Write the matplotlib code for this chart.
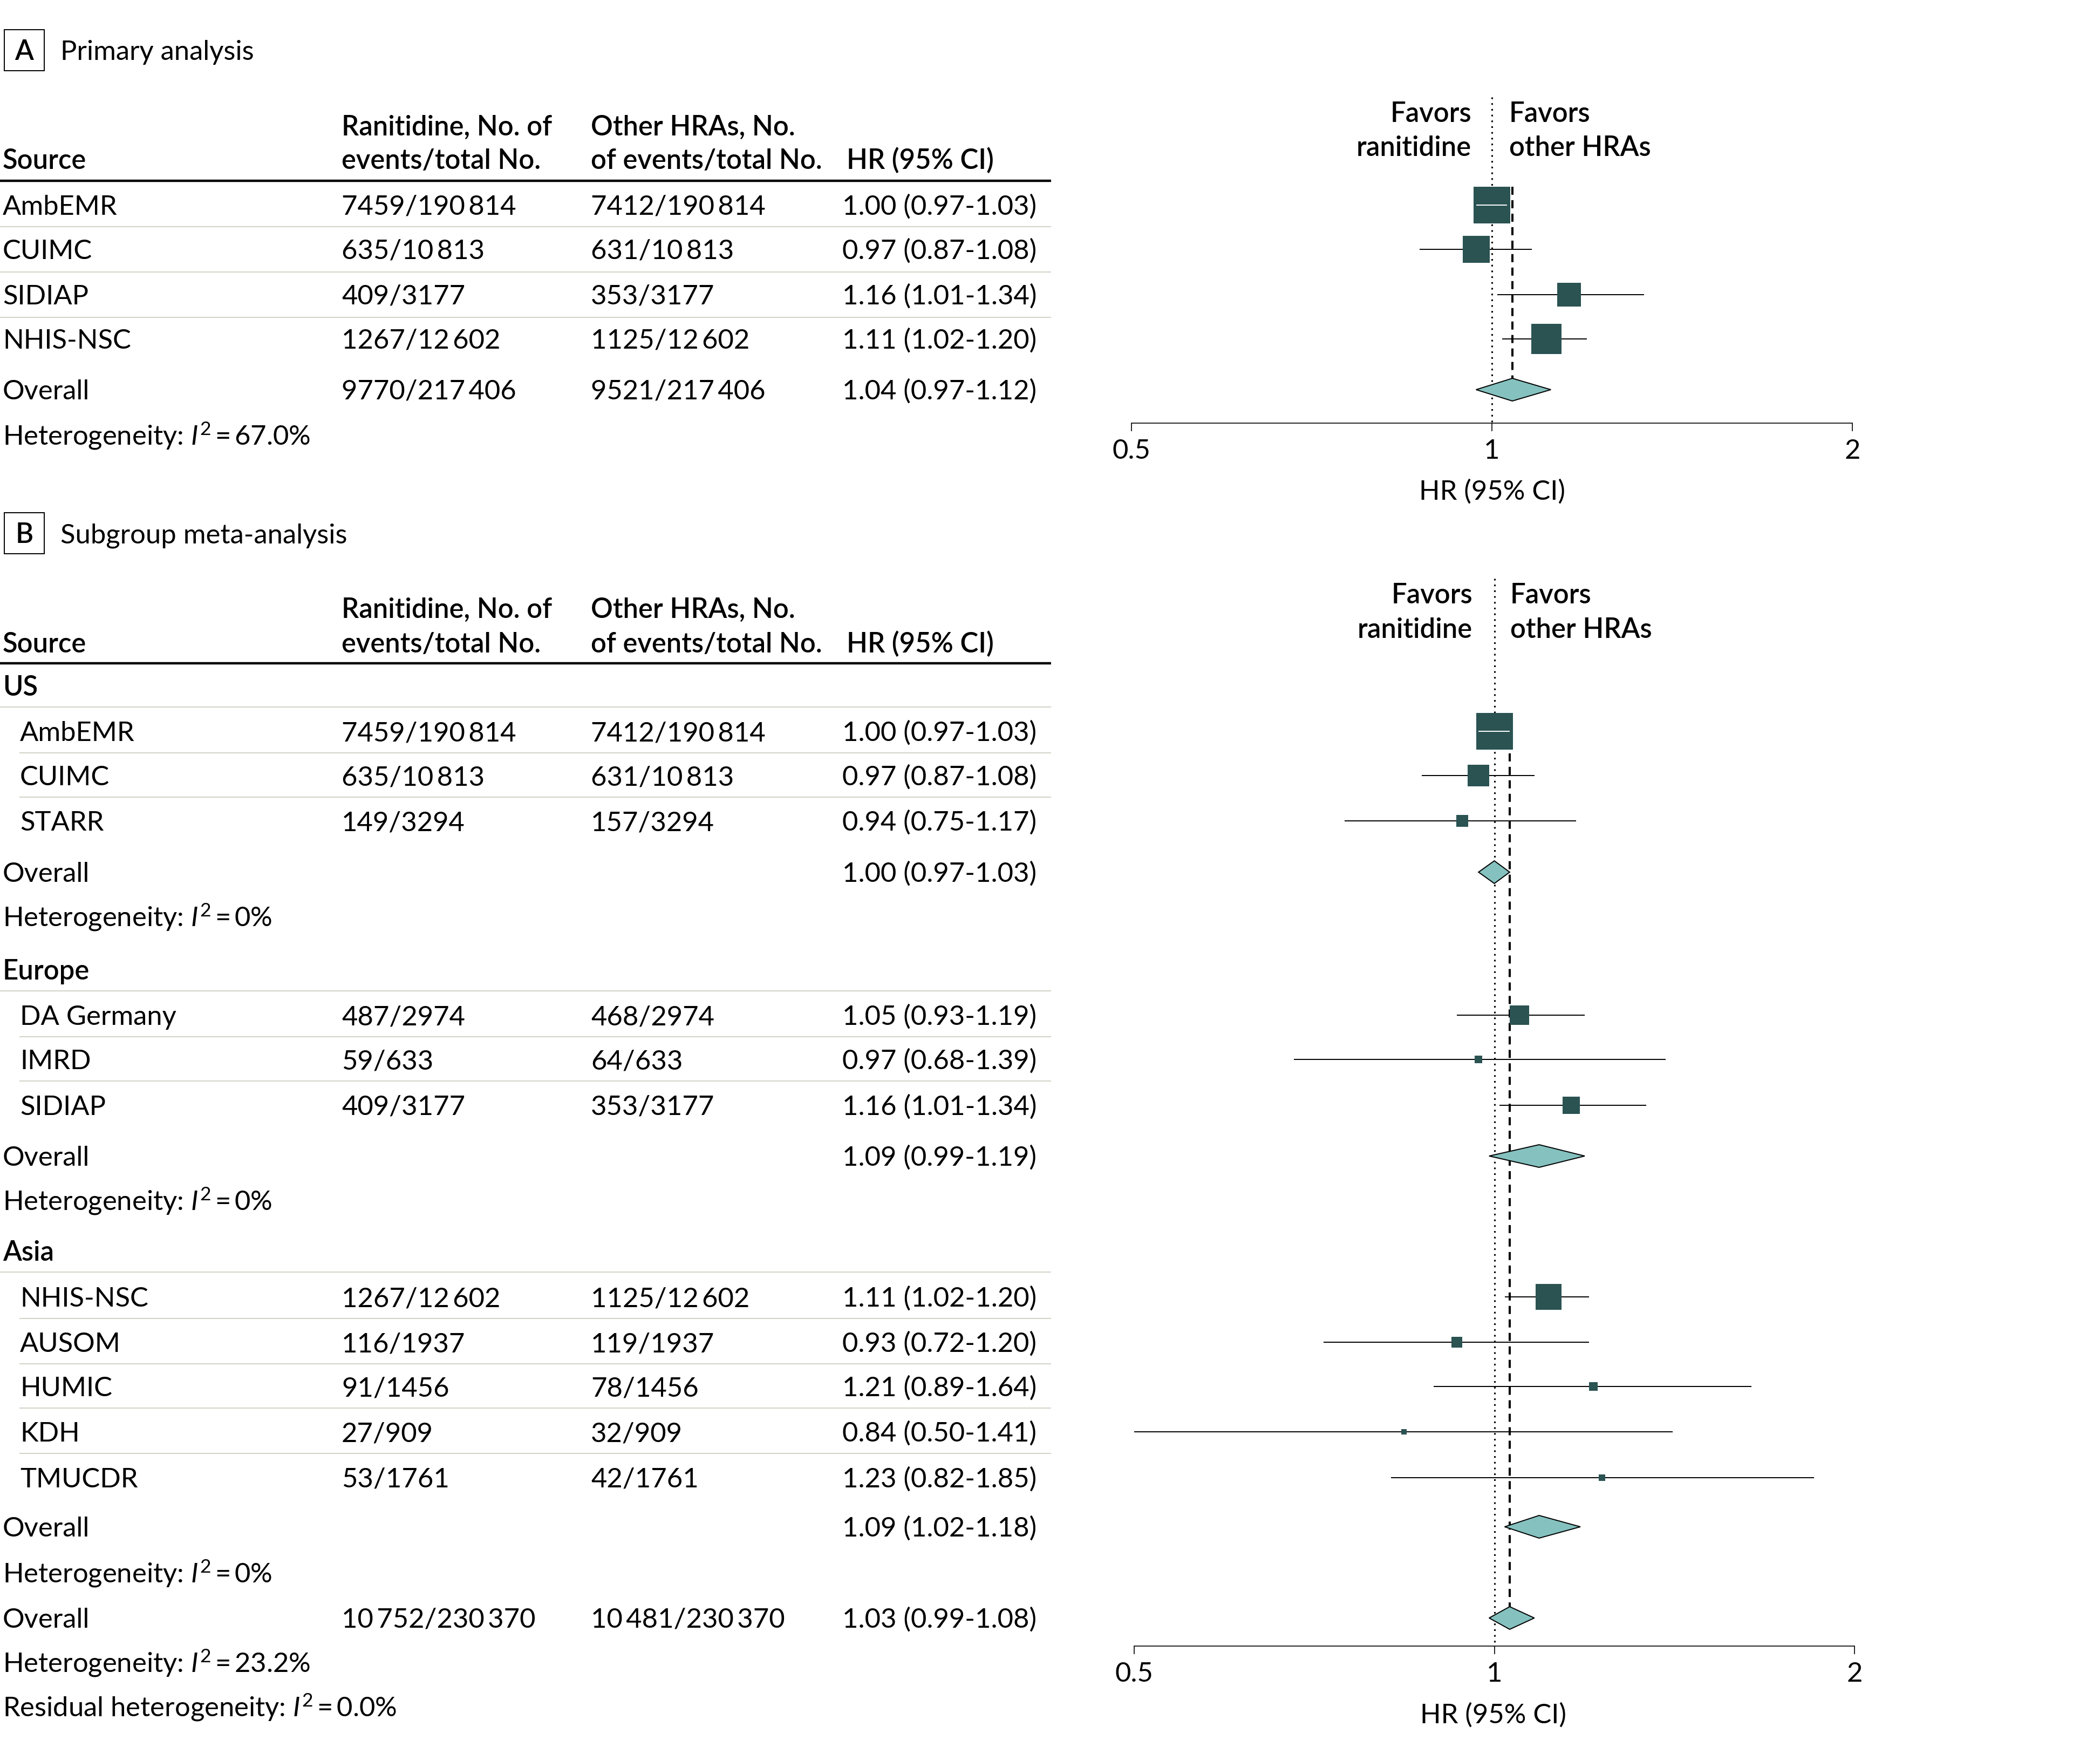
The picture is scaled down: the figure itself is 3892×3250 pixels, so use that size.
import numpy as np
import matplotlib
matplotlib.use('Agg')
import matplotlib.pyplot as plt
from matplotlib.patches import Polygon, Rectangle
from matplotlib.ticker import NullLocator

# ---------------- data ----------------
# Panel A: primary analysis
src_a = ['AmbEMR', 'CUIMC', 'SIDIAP', 'NHIS-NSC']
ran_a = ['7459/190\u2009814', '635/10\u2009813', '409/3177', '1267/12\u2009602']
oth_a = ['7412/190\u2009814', '631/10\u2009813', '353/3177', '1125/12\u2009602']
hr_a = [1.00, 0.97, 1.16, 1.11]
lo_a = [0.97, 0.87, 1.01, 1.02]
hi_a = [1.03, 1.08, 1.34, 1.20]
wt_a = [37.5, 20.9, 15.4, 26.2]          # study weight, %
ran_tot_a = '9770/217\u2009406'
oth_tot_a = '9521/217\u2009406'
ov_a = [1.04, 0.97, 1.12]                # HR, lower, upper
i2_a = '67.0%'

# Panel B: subgroup meta-analysis
groups = ['US', 'Europe', 'Asia']
src_b = [['AmbEMR', 'CUIMC', 'STARR'],
         ['DA Germany', 'IMRD', 'SIDIAP'],
         ['NHIS-NSC', 'AUSOM', 'HUMIC', 'KDH', 'TMUCDR']]
ran_b = [['7459/190\u2009814', '635/10\u2009813', '149/3294'],
         ['487/2974', '59/633', '409/3177'],
         ['1267/12\u2009602', '116/1937', '91/1456', '27/909', '53/1761']]
oth_b = [['7412/190\u2009814', '631/10\u2009813', '157/3294'],
         ['468/2974', '64/633', '353/3177'],
         ['1125/12\u2009602', '119/1937', '78/1456', '32/909', '42/1761']]
hr_b = [[1.00, 0.97, 0.94], [1.05, 0.97, 1.16], [1.11, 0.93, 1.21, 0.84, 1.23]]
lo_b = [[0.97, 0.87, 0.75], [0.93, 0.68, 1.01], [1.02, 0.72, 0.89, 0.50, 0.82]]
hi_b = [[1.03, 1.08, 1.17], [1.19, 1.39, 1.34], [1.20, 1.20, 1.64, 1.41, 1.85]]
wt_b = [[37.6, 12.7, 3.8], [10.5, 1.6, 8.4], [18.4, 3.0, 2.1, 0.8, 1.2]]
grp_hr = [1.00, 1.09, 1.09]
grp_lo = [0.97, 0.99, 1.02]
grp_hi = [1.03, 1.19, 1.18]
grp_i2 = ['0%', '0%', '0%']
ran_tot_b = '10\u2009752/230\u2009370'
oth_tot_b = '10\u2009481/230\u2009370'
ov_b = [1.03, 0.99, 1.08]
i2_b = '23.2%'
i2_resid = '0.0%'

# ---------------- style ----------------
W, H = 3892, 3250
FONT, FS = 'Lato', 36.5
plt.rcParams['font.family'] = [FONT, 'DejaVu Sans']
plt.rcParams['mathtext.fontset'] = 'custom'
plt.rcParams['mathtext.rm'] = FONT
plt.rcParams['mathtext.it'] = FONT + ':italic'
BOLD = 'semibold'
PT = 0.72                     # points per pixel at dpi 100
SQ_COL = '#2a5352'
DIA_COL = '#84c1bf'
SEP_COL = '#c8cbbc'
SQ_K = 11.0                   # square side (px) per sqrt(weight %)
DIA_H = 21                    # diamond half height, px
TAB_R = 1948                  # right end of table rules
COLS = [5, 633, 1095, 1561]

fig = plt.figure(figsize=(W / 100, H / 100), dpi=100)
ax_t = fig.add_axes([0, 0, 1, 1])
ax_t.set_xlim(0, W)
ax_t.set_ylim(H, 0)
ax_t.axis('off')


def txt(x, yc, s, bold=False, ha='left'):
    ax_t.text(x, yc + 18, s, fontsize=FS, fontweight=BOLD if bold else 'normal',
              ha=ha, va='baseline')


def rule(y, x0=0, lw=1.2, color=SEP_COL):
    ax_t.plot([x0, TAB_R], [y, y], color=color, lw=lw, solid_capstyle='butt')


def hr_str(h, l, u):
    return f'{h:.2f} ({l:.2f}-{u:.2f})'


def panel_label(y0, letter, title):
    ax_t.add_patch(Rectangle((8, y0), 74, 76, fill=False, lw=1.4, ec='black'))
    txt(45, y0 + 38, letter, bold=True, ha='center')
    txt(112, y0 + 38, title)


def header(y1, y2, yrule):
    txt(COLS[1], y1, 'Ranitidine, No. of', bold=True)
    txt(COLS[2], y1, 'Other HRAs, No.', bold=True)
    txt(COLS[0], y2, 'Source', bold=True)
    txt(COLS[1], y2, 'events/total No.', bold=True)
    txt(COLS[2], y2, 'of events/total No.', bold=True)
    txt(1569, y2, 'HR (95% CI)', bold=True)
    rule(yrule, lw=3.2, color='black')


def forest_ax(x0, x1, ytop, ybot):
    ax = fig.add_axes([x0 / W, 1 - ybot / H, (x1 - x0) / W, (ybot - ytop) / H])
    ax.set_xscale('log', base=2)
    ax.set_xlim(0.5, 2)
    ax.set_ylim(ybot, ytop)
    for s in ['top', 'right', 'left']:
        ax.spines[s].set_visible(False)
    ax.spines['bottom'].set_linewidth(1.2)
    ax.set_yticks([])
    ax.set_xticks([0.5, 1, 2])
    ax.set_xticklabels(['0.5', '1', '2'])
    ax.xaxis.set_minor_locator(NullLocator())
    ax.tick_params(axis='x', direction='out', length=11, width=1.2,
                   labelsize=FS, pad=10)
    ax.patch.set_alpha(0)
    return ax, (x1 - x0) / 2.0


def studies(ax, pxl, ys, hr, lo, hi, wt):
    for y, h, l, u, w in zip(ys, hr, lo, hi, wt):
        ax.plot([l, u], [y, y], color='black', lw=1.4, zorder=3,
                solid_capstyle='butt', clip_on=False)
        side = SQ_K * np.sqrt(w)
        ax.scatter([h], [y], s=(side * PT) ** 2, marker='s', color=SQ_COL,
                   linewidths=0, zorder=4, clip_on=False)
        # CI narrower than the box: draw it in white on top
        if pxl * np.log2(u / h) < side / 2 and pxl * np.log2(h / l) < side / 2:
            ax.plot([l, u], [y, y], color='white', lw=1.4, zorder=5,
                    solid_capstyle='butt')


def diamond(ax, y, h, l, u):
    ax.add_patch(Polygon([(l, y), (h, y - DIA_H), (u, y), (h, y + DIA_H)],
                         closed=True, fc=DIA_COL, ec='black', lw=1.4,
                         joinstyle='miter', zorder=4, clip_on=False))


def favors(x1, y1, y2):
    txt(x1 - 38, y1, 'Favors', bold=True, ha='right')
    txt(x1 - 38, y2, 'ranitidine', bold=True, ha='right')
    txt(x1 + 32, y1, 'Favors', bold=True)
    txt(x1 + 32, y2, 'other HRAs', bold=True)


# ---------------- panel A ----------------
panel_label(55, 'A', 'Primary analysis')
header(233, 295, 335)
rows_a = [380, 462, 546, 628]
for i, y in enumerate(rows_a):
    txt(COLS[0], y, src_a[i])
    txt(COLS[1], y, ran_a[i])
    txt(COLS[2], y, oth_a[i])
    txt(COLS[3], y, hr_str(hr_a[i], lo_a[i], hi_a[i]))
for y in [420, 504, 588]:
    rule(y)
y_ov_a = 722
txt(COLS[0], y_ov_a, 'Overall')
txt(COLS[1], y_ov_a, ran_tot_a)
txt(COLS[2], y_ov_a, oth_tot_a)
txt(COLS[3], y_ov_a, hr_str(*ov_a))
txt(COLS[0], 807, 'Heterogeneity: $I^2$\u2009=\u2009' + i2_a)

ax_a, pxl_a = forest_ax(2097, 3433, 150, 784)
ax_a.plot([1, 1], [180, 784], color='black', lw=2.2, ls=(0, (1, 2.5)), zorder=1)
top_a = rows_a[0] - SQ_K * np.sqrt(wt_a[0]) / 2
ax_a.plot([ov_a[0]] * 2, [top_a, y_ov_a - DIA_H], color='black', lw=2.9,
          ls=(0, (3.7, 2.5)), zorder=2)
studies(ax_a, pxl_a, rows_a, hr_a, lo_a, hi_a, wt_a)
diamond(ax_a, y_ov_a, *ov_a)
favors(2765, 208, 271)
txt(2765, 908, 'HR (95% CI)', ha='center')

# ---------------- panel B ----------------
panel_label(950, 'B', 'Subgroup meta-analysis')
header(1127, 1191, 1229)
grp_y = [1271, 1797, 2318]
grp_rows = [[1355, 1437, 1521], [1881, 1963, 2048],
            [2403, 2487, 2569, 2653, 2738]]
grp_ov_y = [1616, 2142, 2829]
grp_het_y = [1698, 2224, 2914]

ax_b, pxl_b = forest_ax(2102, 3437, 1050, 3050)
ax_b.plot([1, 1], [1072, 3050], color='black', lw=2.2, ls=(0, (1, 2.5)), zorder=1)
y_ov_b = 2998
top_b = grp_rows[0][0] - SQ_K * np.sqrt(wt_b[0][0]) / 2
ax_b.plot([ov_b[0]] * 2, [top_b, y_ov_b - DIA_H], color='black', lw=2.9,
          ls=(0, (3.7, 2.5)), zorder=2)

for g in range(len(groups)):
    txt(COLS[0], grp_y[g], groups[g], bold=True)
    rule(grp_y[g] + 39)
    ys = grp_rows[g]
    for i, y in enumerate(ys):
        txt(37, y, src_b[g][i])
        txt(COLS[1], y, ran_b[g][i])
        txt(COLS[2], y, oth_b[g][i])
        txt(COLS[3], y, hr_str(hr_b[g][i], lo_b[g][i], hi_b[g][i]))
        if i < len(ys) - 1:
            rule(y + 40, x0=36)
    txt(COLS[0], grp_ov_y[g], 'Overall')
    txt(COLS[3], grp_ov_y[g], hr_str(grp_hr[g], grp_lo[g], grp_hi[g]))
    txt(COLS[0], grp_het_y[g], 'Heterogeneity: $I^2$\u2009=\u2009' + grp_i2[g])
    studies(ax_b, pxl_b, ys, hr_b[g], lo_b[g], hi_b[g], wt_b[g])
    diamond(ax_b, grp_ov_y[g], grp_hr[g], grp_lo[g], grp_hi[g])

txt(COLS[0], y_ov_b, 'Overall')
txt(COLS[1], y_ov_b, ran_tot_b)
txt(COLS[2], y_ov_b, oth_tot_b)
txt(COLS[3], y_ov_b, hr_str(*ov_b))
txt(COLS[0], 3080, 'Heterogeneity: $I^2$\u2009=\u2009' + i2_b)
txt(COLS[0], 3162, 'Residual heterogeneity: $I^2$\u2009=\u2009' + i2_resid)
diamond(ax_b, y_ov_b, *ov_b)
favors(2767, 1100, 1164)
txt(2767, 3175, 'HR (95% CI)', ha='center')

fig.savefig('out.png', dpi=100)
